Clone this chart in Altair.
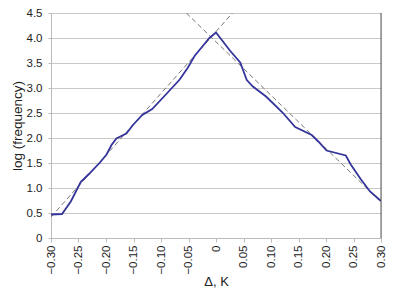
import altair as alt
import pandas as pd

# observed log-frequency curve
x_obs = [-0.30, -0.28, -0.264, -0.246, -0.231, -0.211, -0.199, -0.190, -0.181, -0.163,
         -0.151, -0.134, -0.116, -0.092, -0.066, -0.051, -0.039, -0.027, -0.012, 0.0,
         0.026, 0.044, 0.056, 0.067, 0.091, 0.121, 0.144, 0.174, 0.186, 0.201,
         0.236, 0.245, 0.263, 0.280, 0.300]
y_obs = [0.47, 0.48, 0.73, 1.12, 1.28, 1.51, 1.67, 1.86, 1.99, 2.09,
         2.26, 2.46, 2.58, 2.86, 3.17, 3.41, 3.64, 3.80, 4.00, 4.11,
         3.74, 3.51, 3.16, 3.03, 2.83, 2.51, 2.22, 2.06, 1.93, 1.75,
         1.65, 1.47, 1.18, 0.93, 0.74]

# dashed linear fits (endpoints)
fit_left_x = [-0.30, 0.03]
fit_left_y = [0.42, 4.5]
fit_right_x = [-0.054, 0.30]
fit_right_y = [4.5, 0.72]

x_ticks = [-0.30, -0.25, -0.20, -0.15, -0.10, -0.05, 0.0, 0.05, 0.10, 0.15, 0.20, 0.25, 0.30]
y_ticks = [0.0, 0.5, 1.0, 1.5, 2.0, 2.5, 3.0, 3.5, 4.0, 4.5]

obs = pd.DataFrame({"x": x_obs, "y": y_obs})
fits = pd.DataFrame({
    "x": fit_left_x + fit_right_x,
    "y": fit_left_y + fit_right_y,
    "fit": ["left"] * 2 + ["right"] * 2,
})
border = pd.DataFrame({"x": [0.30, 0.30], "y": [0.0, 4.5]})

FONT = "Liberation Sans"

xscale = alt.Scale(domain=[-0.30, 0.30], nice=False, zero=False)
yscale = alt.Scale(domain=[0, 4.5], nice=False)

xaxis = alt.Axis(
    values=x_ticks,
    labelExpr="datum.value == 0 ? '0' : replace(format(datum.value, '.2f'), '-', '\u2013')",
    labelAngle=-90, labelAlign="right", labelBaseline="middle",
    labelFontSize=11.5, labelColor="#222", labelFont=FONT, labelPadding=3,
    labelOverlap=False, labelBound=False, labelFlush=False,
    tickSize=4, tickColor="#bbbbbb", domainColor="#bbbbbb",
    grid=False, title="\u0394, K", titleFont=FONT, titleFontSize=13,
    titleFontWeight="normal", titleColor="#222", titlePadding=1,
)
yaxis = alt.Axis(
    values=y_ticks,
    labelExpr="datum.value == 0 ? '0' : format(datum.value, '.1f')",
    labelFontSize=11.5, labelColor="#222", labelFont=FONT, labelPadding=6,
    labelOverlap=False, labelBound=False, labelFlush=False,
    tickSize=3, tickColor="#bbbbbb", domainColor="#bbbbbb",
    grid=True, gridColor="#c8c8c8", gridWidth=1,
    title="log (frequency)", titleFont=FONT, titleFontSize=13.5,
    titleFontWeight="normal", titleColor="#222", titlePadding=2,
)

X = alt.X("x:Q", scale=xscale, axis=xaxis, title="\u0394, K")
Y = alt.Y("y:Q", scale=yscale, axis=yaxis, title="log (frequency)")

fit_lines = alt.Chart(fits).mark_line(
    color="#777777", strokeWidth=1, strokeDash=[5, 3], clip=True
).encode(x=X, y=Y, detail="fit:N")

obs_line = alt.Chart(obs).mark_line(
    color="#34349a", strokeWidth=1.8, clip=True
).encode(x=X, y=Y)

right_border = alt.Chart(border).mark_line(
    color="#555555", strokeWidth=1
).encode(x=X, y=Y)

chart = alt.layer(fit_lines, obs_line, right_border).properties(
    width=330, height=225,
    autosize=alt.AutoSizeParams(type="none"),
    padding={"left": 43, "top": 5, "right": 6, "bottom": 52},
).configure_view(stroke=None).configure(background="white")

chart.save("out.html", embed_options={"renderer": "svg", "actions": False})
